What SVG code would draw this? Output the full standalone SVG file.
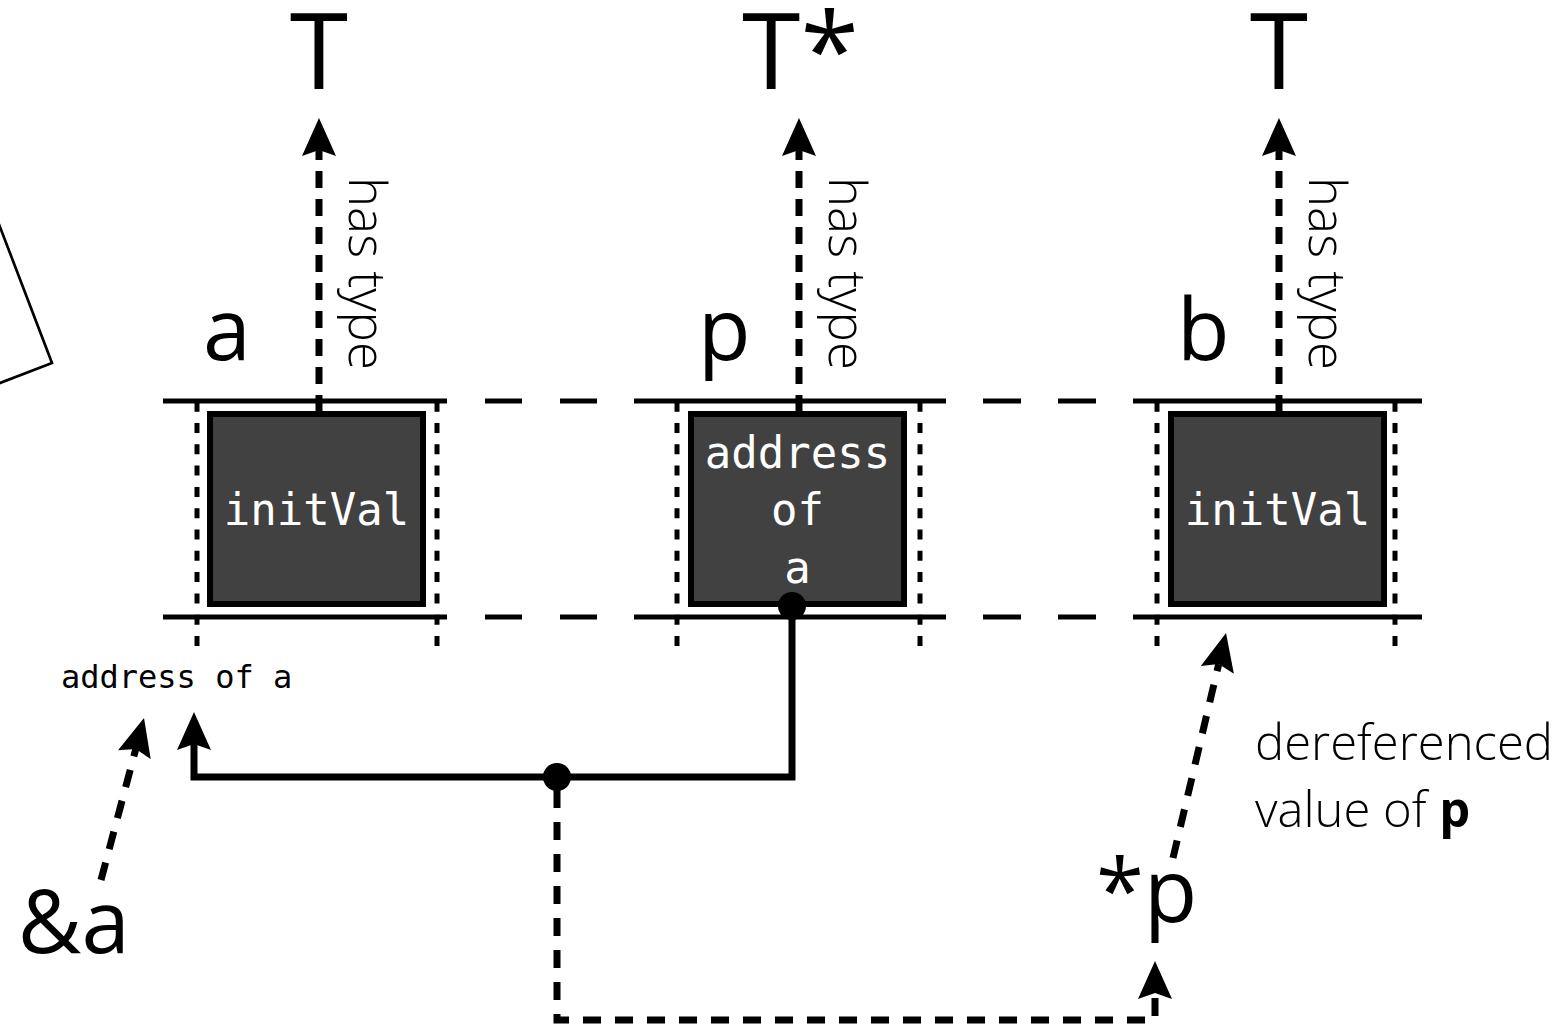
<svg xmlns="http://www.w3.org/2000/svg" width="1564" height="1025" viewBox="0 0 1564 1025">
  <defs>
    <style>
      .bg { fill: #ffffff; }
      .rail { stroke: #000; stroke-width: 5; fill: none; }
      .cell-edge { stroke: #000; stroke-width: 5; fill: none; stroke-dasharray: 10 11.3; }
      .cell { fill: #414141; stroke: #000; stroke-width: 6; }
      .val { font-family: "DejaVu Sans Mono", "Liberation Mono", monospace; font-size: 44px; fill: #ffffff; text-anchor: middle; }
      .name { font-family: "Open Sans", "Noto Sans", "Liberation Sans", sans-serif; font-size: 86px; fill: #000; }
      .type { font-family: "Open Sans", "Noto Sans", "Liberation Sans", sans-serif; font-size: 106px; fill: #000; }
      .expr { font-family: "Open Sans", "Noto Sans", "Liberation Sans", sans-serif; font-size: 87px; fill: #000; }
      .rel { font-family: "Open Sans", "Noto Sans", "Liberation Sans", sans-serif; font-weight: 300; font-size: 49px; fill: #000; }
      .rot { font-family: "Open Sans", "Noto Sans", "Liberation Sans", sans-serif; font-weight: 300; font-size: 51px; fill: #000; }
      .note { font-family: "DejaVu Sans Mono", "Liberation Mono", monospace; font-size: 32px; fill: #000; }
      .has-type { stroke: #000; stroke-width: 7; fill: none; stroke-dasharray: 17 11; }
      .ref { stroke: #000; stroke-width: 7; fill: none; stroke-dasharray: 18 14; }
      .solid { stroke: #000; stroke-width: 7; fill: none; stroke-linejoin: miter; }
      .dot { fill: #000; }
    </style>
    <marker id="head" viewBox="0 0 38 34" markerUnits="userSpaceOnUse" markerWidth="38" markerHeight="34" refX="6" refY="17" orient="auto">
      <path d="M0,0 L38,17 L0,34 L6,17 Z" fill="#000"/>
    </marker>
  </defs>

  <rect class="bg" x="0" y="0" width="1564" height="1025"/>

  <!-- corner of a shape cut off at the left edge -->
  <polyline points="-4,216.5 52,363 -5,385" fill="none" stroke="#000" stroke-width="2.7"/>

  <!-- memory strip: rails and cell boundaries -->
  <g id="memory">
    <path class="rail" d="M163,401 H447 M485,401 H522 M560,401 H597 M634,401 H946 M983,401 H1021 M1058,401 H1096 M1133,401 H1422"/>
    <path class="rail" d="M163,617 H447 M485,617 H522 M560,617 H597 M634,617 H946 M983,617 H1021 M1058,617 H1096 M1133,617 H1422"/>
    <path class="cell-edge" d="M197,401.7 V647 M437,401.7 V647 M677,401.7 V647 M920,401.7 V647 M1157,401.7 V647 M1395,401.7 V647"/>
  </g>

  <!-- variable a -->
  <g id="node-a">
    <text class="name" x="203" y="360">a</text>
    <rect class="cell" x="210" y="414" width="213" height="190"/>
    <text class="val" x="316.5" y="525">initVal</text>
  </g>

  <!-- variable p -->
  <g id="node-p">
    <text class="name" x="698" y="360">p</text>
    <rect class="cell" x="691" y="414" width="213" height="190"/>
    <text class="val" x="797.5" y="468">address</text>
    <text class="val" x="797.5" y="525">of</text>
    <text class="val" x="797.5" y="583">a</text>
  </g>

  <!-- variable b -->
  <g id="node-b">
    <text class="name" x="1177" y="360">b</text>
    <rect class="cell" x="1171" y="414" width="213" height="190"/>
    <text class="val" x="1277.5" y="525">initVal</text>
  </g>

  <!-- types -->
  <g id="type-a"><text class="type" x="319" y="89" text-anchor="middle">T</text></g>
  <g id="type-p"><text class="type" x="742" y="89">T*</text></g>
  <g id="type-b"><text class="type" x="1279" y="89" text-anchor="middle">T</text></g>

  <!-- expressions and notes -->
  <g id="label-address"><text class="note" x="61" y="688">address of a</text></g>
  <g id="expr-addr"><text class="expr" x="18" y="953">&amp;a</text></g>
  <g id="expr-deref"><text class="expr" x="1096" y="922">*p</text></g>
  <g id="label-deref">
    <text class="rel" x="1255" y="760">dereferenced</text>
    <text class="rel" x="1255" y="827">value of <tspan font-weight="700">p</tspan></text>
  </g>

  <!-- connectors -->
  <g id="connectors">
    <path class="has-type" d="M319,412 V150" marker-end="url(#head)"/>
    <path class="has-type" d="M799,412 V150" marker-end="url(#head)"/>
    <path class="has-type" d="M1279,412 V150" marker-end="url(#head)"/>
    <text class="rot" transform="translate(349,177) rotate(90)">has type</text>
    <text class="rot" transform="translate(829,177) rotate(90)">has type</text>
    <text class="rot" transform="translate(1309,177) rotate(90)">has type</text>

    <path class="solid" d="M792,606 V777 H194 V744" marker-end="url(#head)"/>
    <circle class="dot" cx="792" cy="606" r="14"/>
    <circle class="dot" cx="557" cy="777" r="14"/>

    <path class="ref" d="M557,790 V1020 H1155 V993" marker-end="url(#head)"/>
    <path class="ref" d="M101,880 L135.8,748.9" marker-end="url(#head)"/>
    <path class="ref" d="M1173,858 L1218.7,664.1" marker-end="url(#head)"/>
  </g>
</svg>
